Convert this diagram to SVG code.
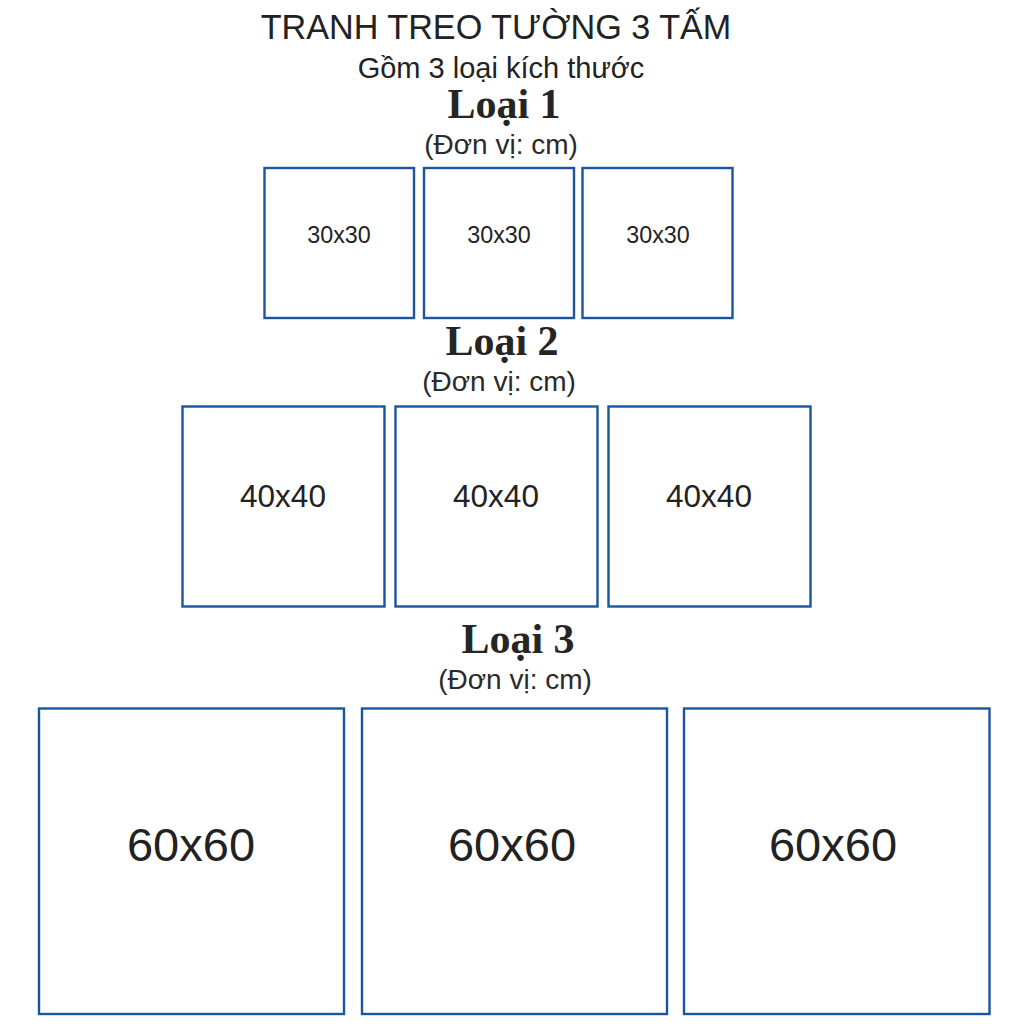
<svg xmlns="http://www.w3.org/2000/svg" width="1024" height="1024" viewBox="0 0 1024 1024">
<style>
text{font-family:"Liberation Sans",Arial,sans-serif;fill:#222;text-anchor:middle}
.h{font-family:"Liberation Serif","Times New Roman",serif;font-weight:700;font-size:42px;fill:#252525}
.u{font-size:28px;fill:#2a2a2a}
.b{fill:#fff;stroke:#1a56a0;stroke-width:2.4}
.s1{font-size:23.300px}.s2{font-size:31.500px}.s3{font-size:47px}
</style>
<rect width="1024" height="1024" fill="#fff"/>
<g id="titles">
<text x="496" y="39" font-size="34.200">TRANH TREO TƯỜNG 3 TẤM</text>
<text x="501" y="78" font-size="29">Gồm 3 loại kích thước</text>
</g>
<g id="type1">
<text class="h" x="504" y="118">Loại 1</text>
<text class="u" x="501" y="154">(Đơn vị: cm)</text>
<g id="t1a"><rect class="b" x="264.500" y="168" width="149.500" height="150"/><text class="s1" x="339" y="243">30x30</text></g>
<g id="t1b"><rect class="b" x="424" y="168" width="150" height="150"/><text class="s1" x="499" y="243">30x30</text></g>
<g id="t1c"><rect class="b" x="582.500" y="168" width="150" height="150"/><text class="s1" x="658" y="243">30x30</text></g>
</g>
<g id="type2">
<text class="h" x="502" y="355">Loại 2</text>
<text class="u" x="499" y="391">(Đơn vị: cm)</text>
<g id="t2a"><rect class="b" x="182.500" y="406.500" width="202" height="200"/><text class="s2" x="283" y="507">40x40</text></g>
<g id="t2b"><rect class="b" x="395.500" y="406.500" width="202" height="200"/><text class="s2" x="496" y="507">40x40</text></g>
<g id="t2c"><rect class="b" x="608.500" y="406.500" width="202" height="200"/><text class="s2" x="709" y="507">40x40</text></g>
</g>
<g id="type3">
<text class="h" x="518" y="653">Loại 3</text>
<text class="u" x="515" y="689">(Đơn vị: cm)</text>
<g id="t3a"><rect class="b" x="39" y="708.500" width="305" height="305.500"/><text class="s3" x="191" y="861">60x60</text></g>
<g id="t3b"><rect class="b" x="362" y="708.500" width="305" height="305.500"/><text class="s3" x="512" y="861">60x60</text></g>
<g id="t3c"><rect class="b" x="684" y="708.500" width="305.500" height="305.500"/><text class="s3" x="833" y="861">60x60</text></g>
</g>
<g id="connectors"/>
</svg>
